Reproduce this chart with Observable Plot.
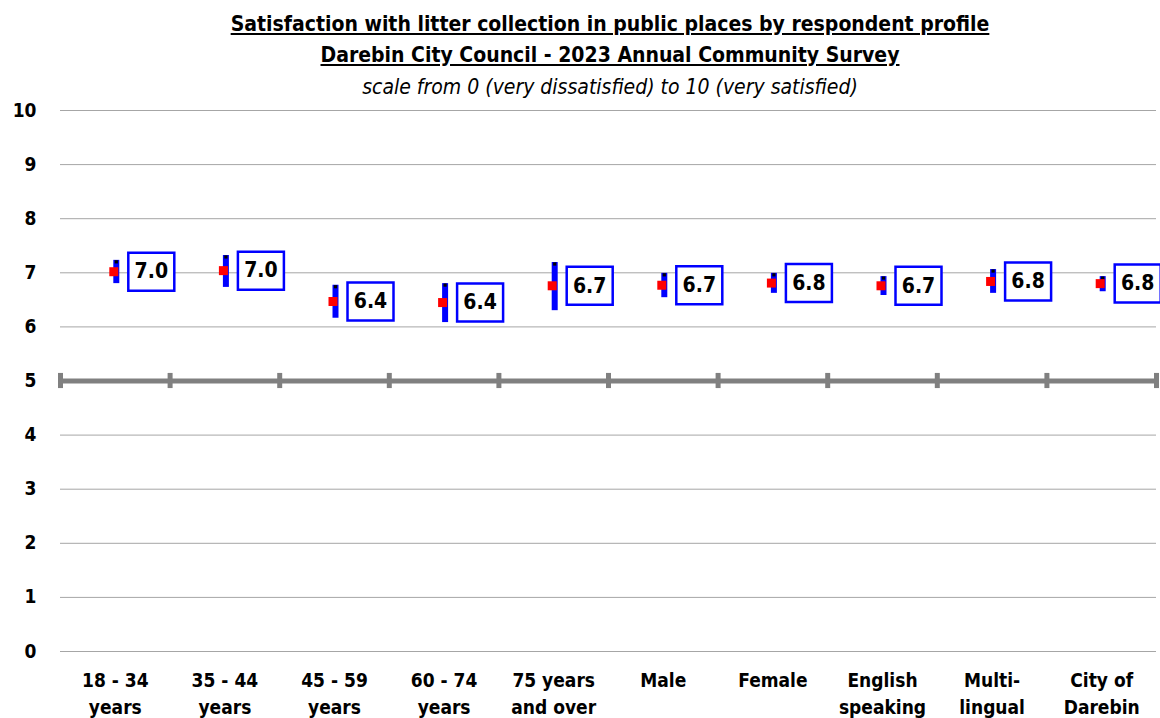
<!DOCTYPE html>
<html>
<head>
<meta charset="utf-8">
<script src="https://cdn.jsdelivr.net/npm/d3@7"></script>
<script src="https://cdn.jsdelivr.net/npm/@observablehq/plot@0.6"></script>
<style>
  body { margin: 0; background: #fff; width: 1160px; height: 718px; overflow: hidden; position: relative; }
  .t { position: absolute; left: 60px; width: 1100px; text-align: center; color: #000; white-space: nowrap;
       font-family: 'Liberation Sans Narrow', 'DejaVu Sans Condensed', 'Open Sans', sans-serif; line-height: 1.2; }
  #t1 { top: 12px; font-size: 21px; font-weight: bold; text-decoration: underline; }
  #t2 { top: 43px; font-size: 21px; font-weight: bold; text-decoration: underline; }
  #t3 { top: 75px; font-size: 21px; font-style: italic; }
  #chart { position: absolute; left: 0; top: 100px; }
</style>
</head>
<body>
<div class="t" id="t1">Satisfaction  with litter collection  in public places by respondent profile</div>
<div class="t" id="t2">Darebin City Council  - 2023 Annual  Community Survey</div>
<div class="t" id="t3">scale from 0 (very dissatisfied) to 10 (very satisfied)</div>
<div id="chart"></div>
<script>
const categories = ["18 - 34 years", "35 - 44 years", "45 - 59 years", "60 - 74 years", "75 years and over", "Male", "Female", "English speaking", "Multi-lingual", "City of Darebin"];
const xLabels = ["18 - 34\nyears", "35 - 44\nyears", "45 - 59\nyears", "60 - 74\nyears", "75 years\nand over", "Male", "Female", "English\nspeaking", "Multi-\nlingual", "City of\nDarebin"];
const means = [7.02, 7.04, 6.47, 6.45, 6.76, 6.77, 6.81, 6.76, 6.84, 6.80];
const lows  = [6.80, 6.73, 6.16, 6.08, 6.30, 6.54, 6.62, 6.58, 6.62, 6.65];
const highs = [7.23, 7.32, 6.77, 6.80, 7.19, 6.99, 6.99, 6.93, 7.06, 6.93];
const valueLabels = ["7.0", "7.0", "6.4", "6.4", "6.7", "6.7", "6.8", "6.7", "6.8", "6.8"];
const yTicks = [0, 1, 2, 3, 4, 5, 6, 7, 8, 9, 10];
const midpoint = 5;

const data = categories.map((c, i) => ({
  category: c, mean: means[i], low: lows[i], high: highs[i], label: valueLabels[i]
}));

const FONT = "'Liberation Sans Narrow', 'DejaVu Sans Condensed', 'Open Sans', sans-serif";
const W = 1160, H = 618, ML = 60, MR = 4, MT = 10, MB = 67;
const bw = (W - ML - MR) / categories.length;

const boxSymbol = { draw(ctx) { ctx.rect(-23, -19, 46, 38); } };

const chart = Plot.plot({
  width: W, height: H,
  marginTop: MT, marginBottom: MB, marginLeft: ML, marginRight: MR,
  x: { type: "band", domain: categories, padding: 0, round: false, axis: null },
  y: { domain: [0, 10], axis: null },
  style: { fontFamily: FONT, overflow: "visible", background: "white" },
  marks: [
    Plot.ruleY(yTicks.filter(t => t !== midpoint), { y: d => d, stroke: "#a6a6a6", strokeWidth: 1 }),
    Plot.ruleY([midpoint], { y: d => d, stroke: "#808080", strokeWidth: 5 }),
    Plot.ruleX(categories, { x: d => d, y1: midpoint - 0.14, y2: midpoint + 0.14, dx: -bw / 2, stroke: "#808080", strokeWidth: 5 }),
    Plot.ruleX(categories.slice(-1), { x: d => d, y1: midpoint - 0.14, y2: midpoint + 0.14, dx: bw / 2, stroke: "#808080", strokeWidth: 5 }),
    Plot.text(yTicks, { y: d => d, frameAnchor: "left", dx: -24, textAnchor: "end", text: d => String(d), fontWeight: "bold", fontSize: 19, fill: "#000" }),
    Plot.text(categories, { x: d => d, frameAnchor: "bottom", text: (d, i) => xLabels[i], dy: 17, lineAnchor: "top", lineHeight: 1.4, fontWeight: "bold", fontSize: 19, fill: "#000" }),
    Plot.ruleX(data, { x: "category", y1: "low", y2: "high", stroke: "#0000ff", strokeWidth: 6, dx: 1 }),
    Plot.dot(data, { x: "category", y: "high", symbol: "square", r: 1.8, fill: "#000", dx: 1, dy: 1.5 }),
    Plot.dot(data, { x: "category", y: "mean", symbol: "square", r: 5.08, fill: "#ff0000", dx: -1.5 }),
    Plot.dot(data, { x: "category", y: "mean", symbol: boxSymbol, fill: "#fff", stroke: "#0000ff", strokeWidth: 2.5, dx: 36 }),
    Plot.text(data, { x: "category", y: "mean", text: "label", dx: 36, fontWeight: "bold", fontSize: 21, fill: "#000" })
  ]
});
document.getElementById("chart").appendChild(chart);
</script>
</body>
</html>
